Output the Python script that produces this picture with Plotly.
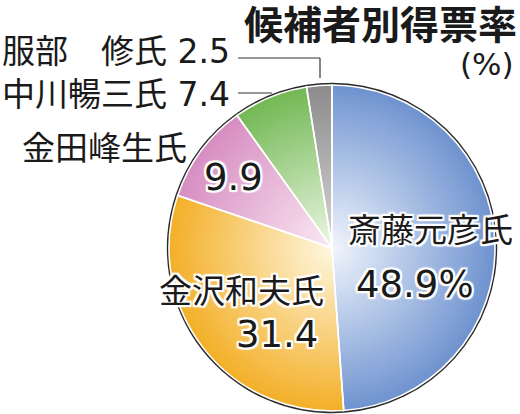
import plotly.graph_objects as go

# vote share by candidate (%)
names = ["斎藤元彦氏", "金沢和夫氏", "金田峰生氏", "中川暢三氏", "服部　修氏"]
values = [48.9, 31.4, 9.9, 7.4, 2.5]
title = "候補者別得票率"
unit = "(%)"

edge_colors = ["#7094d0", "#f3b02a", "#d78fc2", "#74b956", "#8c8c8c"]
center_colors = ["#f2f6fd", "#fff8e2", "#fbeaf5", "#eef8e6", "#d8d8d8"]

W, H = 520, 414
cx, cy, R = 332, 248, 163
FONT = "DejaVu Sans, Noto Sans CJK JP"


def hex_rgb(h):
    h = h.lstrip("#")
    return [int(h[i:i + 2], 16) for i in (0, 2, 4)]


def mix(a, b, t):
    ca, cb = hex_rgb(a), hex_rgb(b)
    return "rgb(%d,%d,%d)" % tuple(round(x + (y - x) * t) for x, y in zip(ca, cb))


def domain(r):
    clip = lambda v: min(1, max(0, v))
    return dict(x=[clip((cx - r) / W), clip((cx + r) / W)],
                y=[clip(1 - (cy + r) / H), clip(1 - (cy - r) / H)])


def pie(r, colors, line=None):
    return go.Pie(
        values=values, labels=names, sort=False, direction="clockwise",
        rotation=0, textinfo="none", hoverinfo="skip", showlegend=False,
        domain=domain(r),
        marker=dict(colors=colors, line=line or dict(width=0)),
    )


fig = go.Figure()

# dark outline behind
fig.add_trace(pie(R + 2.2, ["#2a2a2a"] * len(values)))

# radial gradient built from concentric pies
n = 40
for k in range(n):
    t = 1 - k / n
    cols = [mix(c, e, t) for c, e in zip(center_colors, edge_colors)]
    fig.add_trace(pie(R * t, cols))

# white separators
fig.add_trace(pie(R, ["rgba(0,0,0,0)"] * len(values), dict(color="white", width=1.6)))

halo = ", ".join(
    f"{dx}px {dy}px 1px white"
    for dx, dy in [(-2, -2), (2, -2), (-2, 2), (2, 2), (0, 2), (0, -2), (2, 0), (-2, 0)]
)


def txt(x, y, s, size, anchor="center", halo_on=False, bold=False, family=FONT):
    fig.add_annotation(
        x=x, y=y, text=f"<b>{s}</b>" if bold else s, showarrow=False,
        xanchor=anchor, yanchor="middle", xref="x", yref="y",
        font=dict(family=family, size=size, color="#1a1a1a",
                  shadow=halo if halo_on else "none"),
    )


txt(519, 22, title, 39, "right", bold=True, family="Noto Sans CJK JP")
txt(516, 64, unit, 31, "right")

txt(0, 51, f"{names[4]} {values[4]}", 33, "left")
txt(0, 94, f"{names[3]} {values[3]}", 33, "left")
txt(20, 148, names[2], 33, "left")
txt(233, 177, f"{values[2]}", 37, halo_on=True)
txt(241, 291, names[1], 33, halo_on=True)
txt(277, 334, f"{values[1]}", 37, halo_on=True)
txt(430, 230, names[0], 33, halo_on=True)
txt(415, 284, f"{values[0]}%", 37, halo_on=True)

# leader lines
line = dict(color="#333333", width=1.2)
fig.add_shape(type="line", x0=238, y0=58, x1=320, y1=58, xref="x", yref="y", line=line)
fig.add_shape(type="line", x0=320, y0=58, x1=320, y1=78, xref="x", yref="y", line=line)
fig.add_shape(type="line", x0=238, y0=93, x1=272, y1=93, xref="x", yref="y", line=line)

fig.update_xaxes(range=[0, W], visible=False, domain=[0, 1], fixedrange=True)
fig.update_yaxes(range=[H, 0], visible=False, domain=[0, 1], fixedrange=True)
fig.update_layout(
    width=W, height=H, margin=dict(l=0, r=0, t=0, b=0),
    paper_bgcolor="white", plot_bgcolor="white",
)

fig.write_html("out.html", config={"displayModeBar": False},
               post_script="document.body.style.margin='0';")
